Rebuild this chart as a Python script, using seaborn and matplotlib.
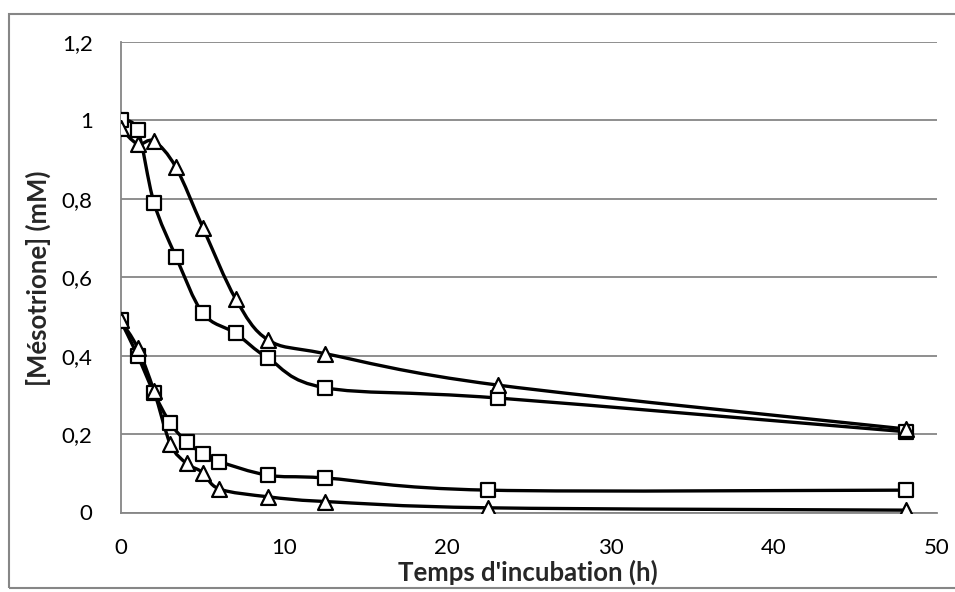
import numpy as np
import matplotlib
matplotlib.use("Agg")
import matplotlib.pyplot as plt
import seaborn as sns
from matplotlib.path import Path
from matplotlib.patches import PathPatch, Rectangle

# ---- data ----
t_high = [0, 1.05, 2.05, 3.4, 5.05, 7.05, 9.05, 12.55, 23.1, 48.1]
sq_high = [1.00, 0.975, 0.79, 0.652, 0.508, 0.457, 0.393, 0.318, 0.292, 0.206]
tri_high = [0.98, 0.94, 0.947, 0.88, 0.726, 0.545, 0.44, 0.405, 0.325, 0.213]

t_low = [0, 1.05, 2.05, 3.05, 4.05, 5.05, 6.05, 9.05, 12.55, 22.5, 48.1]
sq_low = [0.49, 0.40, 0.305, 0.228, 0.18, 0.15, 0.13, 0.095, 0.088, 0.057, 0.057]
tri_low = [0.49, 0.42, 0.31, 0.175, 0.125, 0.102, 0.06, 0.04, 0.028, 0.012, 0.006]

x_ticks = [0, 10, 20, 30, 40, 50]
y_ticks = [0, 0.2, 0.4, 0.6, 0.8, 1.0, 1.2]
y_tick_labels = ["0", "0,2", "0,4", "0,6", "0,8", "1", "1,2"]
x_label = "Temps d'incubation (h)"
y_label = "[Mésotrione] (mM)"

sns.set_theme(style="white")
plt.rcParams['font.family'] = ['Lato', 'DejaVu Sans']

fig = plt.figure(figsize=(9.55, 5.92), dpi=100)
ax = fig.add_axes([120.5 / 955, 1 - 512.5 / 592, (937 - 120.5) / 955, (512.5 - 42) / 592])

# outer chart frame
fig.patches.append(Rectangle((9 / 955, 1 - 588 / 592), 1.2, (588 - 14) / 592,
                             transform=fig.transFigure, fill=False,
                             edgecolor="#868686", linewidth=1.5, zorder=0))


def smooth_path(x, y):
    """Excel-like smoothed line: cubic Bezier segments (Catmull-Rom)."""
    pts = np.column_stack([x, y]).astype(float)
    n = len(pts)
    verts = [pts[0]]
    codes = [Path.MOVETO]
    for i in range(n - 1):
        p0 = pts[i - 1] if i > 0 else pts[i]
        p1 = pts[i]
        p2 = pts[i + 1]
        p3 = pts[i + 2] if i + 2 < n else pts[i + 1]
        c1 = p1 + (p2 - p0) / 6.0
        c2 = p2 - (p3 - p1) / 6.0
        verts += [c1, c2, p2]
        codes += [Path.CURVE4] * 3
    return Path(verts, codes)


for xs, ys in [(t_high, sq_high), (t_high, tri_high), (t_low, sq_low), (t_low, tri_low)]:
    ax.add_patch(PathPatch(smooth_path(xs, ys), facecolor="none",
                           edgecolor="black", linewidth=2.4, zorder=3))

for xs, ys, m in [(t_high, sq_high, "s"), (t_low, sq_low, "s"),
                  (t_high, tri_high, "^"), (t_low, tri_low, "^")]:
    sns.scatterplot(x=xs, y=ys, marker=m, s=115, facecolor="white",
                    edgecolor="black", linewidth=1.6, ax=ax, zorder=4, legend=False)

ax.set_xlim(0, 50)
ax.set_ylim(0, 1.2)
ax.set_xticks(x_ticks)
ax.set_xticklabels([str(v) for v in x_ticks])
ax.set_yticks(y_ticks)
ax.set_yticklabels(y_tick_labels)
ax.yaxis.grid(True, color="#868686", linewidth=1.3)
ax.xaxis.grid(False)
for s in ["top", "right"]:
    ax.spines[s].set_visible(False)
for s in ["left", "bottom"]:
    ax.spines[s].set_color("#868686")
    ax.spines[s].set_linewidth(1.3)
ax.tick_params(axis="both", which="both", direction="out", length=5, width=1.3,
               color="#868686", labelsize=16, labelcolor="black")
ax.tick_params(axis="x", pad=13)
ax.tick_params(axis="y", pad=15)
ax.set_xlabel("")
ax.set_ylabel("")

fig.text(528 / 955, 1 - 572 / 592, x_label, ha="center", va="center",
         fontsize=18.5, fontweight="bold")
fig.text(38 / 955, 1 - 278 / 592, y_label, ha="center", va="center",
         rotation=90, fontsize=18.5, fontweight="bold")

fig.savefig("out.png", dpi=100, facecolor="white")
